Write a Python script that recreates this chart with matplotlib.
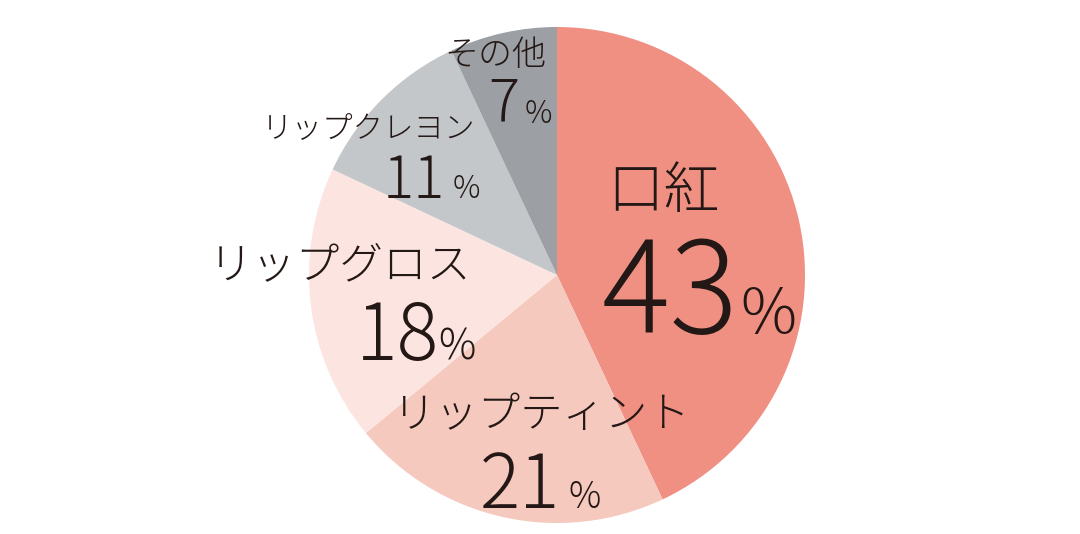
import matplotlib
matplotlib.use("Agg")
import matplotlib.pyplot as plt

plt.rcParams['font.family'] = ['Noto Sans CJK JP', 'DejaVu Sans']

# ---- data ----
categories = ["口紅", "リップティント", "リップグロス", "リップクレヨン", "その他"]
shares = [43, 21, 18, 11, 7]
colors = ["#F09083", "#F6C9BF", "#FCE5E0", "#C4C7CA", "#9C9FA3"]

W, H = 1080, 534
TXT = "#231815"

fig = plt.figure(figsize=(W / 100, H / 100), dpi=100)
ax = fig.add_axes([0, 0, 1, 1])
ax.set_xlim(0, W)
ax.set_ylim(0, H)
ax.set_aspect('equal')
ax.axis('off')

cx, cy, r = 557, H - 275, 248
ax.pie(shares, colors=colors, startangle=90, counterclock=False,
       center=(cx, cy), radius=r, wedgeprops=dict(linewidth=0),
       frame=True)
ax.set_xlim(0, W)
ax.set_ylim(0, H)
ax.axis('off')

def Y(p):
    return H - p

# label layout: (name x-center, name y-center, name size,
#                number right x, baseline y, number size, pct left x, pct size)
layout = [
    (663, 192, 40.5, 738, 333, 92, 740, 45),
    (541, 415, 30.5, 560, 508, 54, 569, 26),
    (340, 266, 31.5, 439, 360, 56, 438, 30),
    (369, 128, 22, 445, 198, 42, 453, 22),
    (495, 55, 24.5, 519, 123, 42, 525, 22),
]

for name, pct, (nx, ny, ns, rx, by, ps, px, qs) in zip(categories, shares, layout):
    ax.text(nx, Y(ny), name, ha='center', va='center', fontsize=ns,
            color=TXT, fontweight='light')
    ax.text(rx, Y(by), str(pct), ha='right', va='baseline', fontsize=ps,
            color=TXT, fontweight='light')
    ax.text(px, Y(by), "%", ha='left', va='baseline', fontsize=qs,
            color=TXT, fontweight='light')

fig.savefig("out.png", dpi=100)
